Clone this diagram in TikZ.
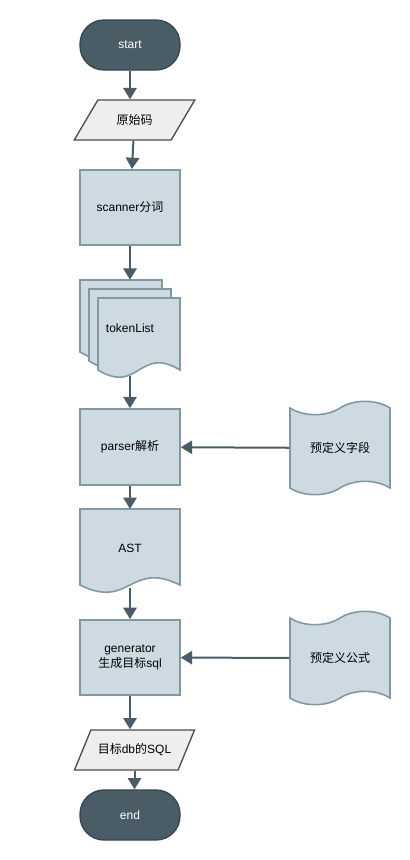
\documentclass[tikz,border=0pt]{standalone}
\usepackage{fontspec}
\setmainfont{Liberation Sans}
\newfontfamily\cjk{Noto Sans CJK SC}
\usetikzlibrary{shapes.geometric, shapes.symbols, arrows.meta}
\definecolor{slate}{HTML}{4A5C66}
\definecolor{slateline}{HTML}{36454D}
\definecolor{boxfill}{HTML}{CDDAE1}
\definecolor{boxline}{HTML}{8299A3}
\definecolor{iofill}{HTML}{EEEEEE}
\definecolor{ioline}{HTML}{4D4D4D}
\tikzset{
  term/.style={rectangle, rounded corners=18pt, minimum width=75pt, minimum height=37.5pt, fill=slate, draw=slateline, line width=1pt, text=white},
  proc/.style={rectangle, minimum width=75pt, minimum height=56.5pt, fill=boxfill, draw=boxline, line width=1.2pt},
  iobox/.style={trapezium, trapezium left angle=54, trapezium right angle=126, trapezium stretches=true, minimum width=90.75pt, minimum height=30pt, fill=iofill, draw=ioline, line width=1pt},
  tapebox/.style={tape, tape bend top=in and out, tape bend bottom=in and out, tape bend height=10pt, minimum width=75pt, minimum height=70pt, fill=boxfill, draw=boxline, line width=1.2pt},
  docpage/.style={fill=boxfill, draw=boxline, line width=1.2pt},
  flow/.style={draw=slate, line width=1.5pt, -{Triangle[width=10pt,length=8.5pt]}}
}
% document sheet: top-left x, y, width, height
\newcommand{\docsheet}[4]{%
  \draw[docpage] (#1,#2) -- ({#1+#3},#2) -- ({#1+#3},{#2+#4})
    .. controls +({-#3/2},-25) and +({#3/2},25) .. (#1,{#2+#4}) -- cycle;}

\begin{document}
\begin{tikzpicture}[x=0.75pt, y=-0.75pt, font=\fontsize{9}{11}\selectfont]
\useasboundingbox (0,0) rectangle (410,860);
% stacked pages and the AST sheet
\docsheet{80}{280}{82}{72}
\docsheet{89}{289}{82}{72}
\docsheet{98}{298}{82}{72}
\docsheet{80}{509}{100}{76}

\node[term] (start) at (130,45) {start};
\node[iobox] (raw) at (134.5,120) {\cjk 原始码};
\node[proc] (scan) at (130,207.5) {scanner{\cjk 分词}};
\node[minimum width=75pt, minimum height=72pt] (tok) at (130,328) {tokenList};
\node[proc, minimum height=57pt] (parse) at (130,447) {parser{\cjk 解析}};
\node[tapebox] (field) at (340,448) {\cjk 预定义字段};
\node[minimum width=75pt, minimum height=59pt] (ast) at (130,548.5) {AST};
\node[proc, align=center] (gen) at (130,657.5) {generator\\{\cjk 生成目标}sql};
\node[tapebox] (formula) at (340,658) {\cjk 预定义公式};
\node[iobox] (sql) at (134.5,750) {{\cjk 目标}db{\cjk 的}SQL};
\node[term] (stop) at (130,815) {end};

\draw[flow] (start) -- (start |- raw.north);
\draw[flow] (raw) -- (scan);
\draw[flow] (scan) -- (tok);
\draw[flow] (tok) -- (parse);
\draw[flow] (field) -- (parse);
\draw[flow] (parse) -- (ast);
\draw[flow] (ast) -- (gen);
\draw[flow] (formula) -- (gen);
\draw[flow] (gen) -- (gen |- sql.north);
\draw[flow] (sql.south) -- (sql.south |- stop.north);
\end{tikzpicture}
\end{document}
